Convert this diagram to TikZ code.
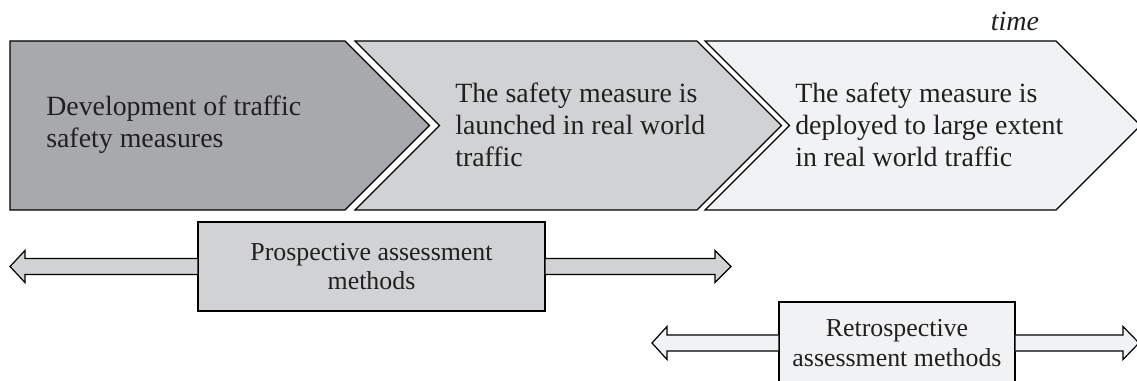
\documentclass[tikz,border=0pt]{standalone}
\usepackage{fontspec}
\setmainfont{Liberation Serif}
\usetikzlibrary{calc}
\definecolor{cA}{HTML}{A8A9AC}
\definecolor{cB}{HTML}{D1D2D4}
\definecolor{cC}{HTML}{F1F2F3}
\definecolor{ink}{HTML}{231F20}
\begin{document}
\begin{tikzpicture}[x=0.75pt,y=-0.75pt,
  chev/.style={draw=black, line width=0.9pt, line join=miter},
  maintext/.style={font=\fontsize{20.9}{24}\selectfont, align=left, anchor=west, inner sep=0pt, text=ink},
  boxnode/.style={draw=black, line width=0.9pt, align=center, inner sep=0pt, text=ink, font=\fontsize{19.4}{22.3}\selectfont},
  fatarrow/.style={draw=black, line width=0.9pt, line join=miter}]
\useasboundingbox (0,0) rectangle (1137,381);
\clip (0,0) rectangle (1137,381);
% chevrons
\path[chev, fill=cA] (10,41) -- (345,41) -- (429.5,125.5) -- (345,210) -- (10,210) -- cycle;
\path[chev, fill=cB] (355,41) -- (697,41) -- (781.5,125.5) -- (697,210) -- (355,210) -- (439.5,125.5) -- cycle;
\path[chev, fill=cC] (705,41) -- (1056,41) -- (1140.5,125.5) -- (1056,210) -- (705,210) -- (789.5,125.5) -- cycle;
% texts
\node[maintext] (t1) at (46,125) {Development of traffic\\safety measures};
\node[maintext] (t2) at (455,125) {The safety measure is\\launched in real world\\traffic};
\node[maintext] (t3) at (795,125) {The safety measure is\\deployed to large extent\\in real world traffic};
\node[font=\fontsize{21}{24}\itshape, text=ink, inner sep=0pt] (time) at (1015,21) {time};
% boxes
\node[boxnode, fill=cB, minimum width=260.25pt, minimum height=66.75pt] (pbox) at (371.5,266.5) {Prospective assessment\\methods};
\node[boxnode, fill=cC, minimum width=177pt, minimum height=61.5pt] (rbox) at (897,343) {Retrospective\\assessment methods};
% arrow end points
\coordinate (lx) at (10,0);
\coordinate (rx) at (731,0);
\coordinate (lx2) at (652,0);
\coordinate (rx2) at (1139,0);
\coordinate (pL) at (pbox.west -| lx);
\coordinate (pR) at (pbox.east -| rx);
\coordinate (rL) at (rbox.west -| lx2);
\coordinate (rR) at (rbox.east -| rx2);
% fat arrows
\path[fatarrow, fill=cB] ($(pbox.west)+(0,-8)$) -- ($(pL)+(15,-8)$) -- ($(pL)+(15,-16)$) -- (pL) -- ($(pL)+(15,16)$) -- ($(pL)+(15,8)$) -- ($(pbox.west)+(0,8)$);
\path[fatarrow, fill=cB] ($(pbox.east)+(0,-8)$) -- ($(pR)+(-16,-8)$) -- ($(pR)+(-16,-16)$) -- (pR) -- ($(pR)+(-16,16)$) -- ($(pR)+(-16,8)$) -- ($(pbox.east)+(0,8)$);
\path[fatarrow, fill=cC] ($(rbox.west)+(0,-8)$) -- ($(rL)+(15,-8)$) -- ($(rL)+(15,-16.5)$) -- (rL) -- ($(rL)+(15,16.5)$) -- ($(rL)+(15,8)$) -- ($(rbox.west)+(0,8)$);
\path[fatarrow, fill=cC] ($(rbox.east)+(0,-8)$) -- ($(rR)+(-16,-8)$) -- ($(rR)+(-16,-16.5)$) -- (rR) -- ($(rR)+(-16,16.5)$) -- ($(rR)+(-16,8)$) -- ($(rbox.east)+(0,8)$);
\end{tikzpicture}
\end{document}
